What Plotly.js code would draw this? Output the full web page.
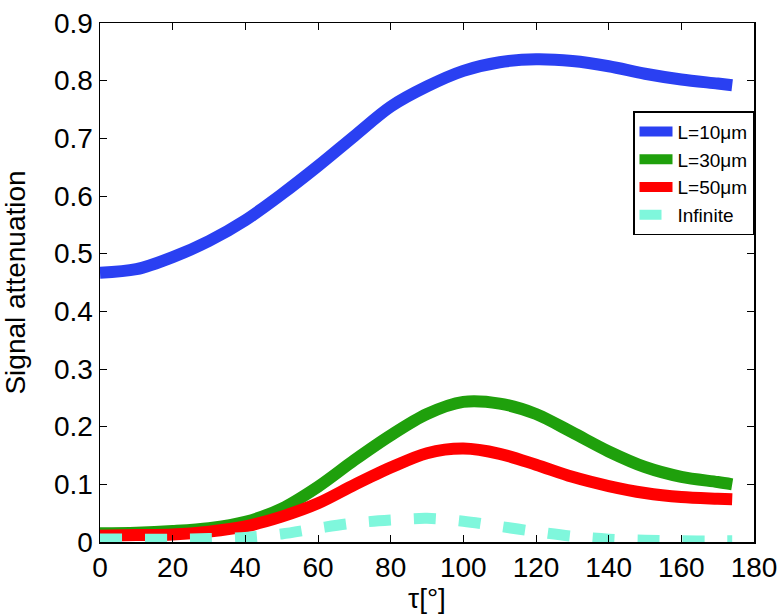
<!DOCTYPE html>
<html>
<head>
<meta charset="utf-8">
<script src="https://cdn.plot.ly/plotly-3.0.1.min.js"></script>
<style>html,body{margin:0;padding:0;background:#fff;}#chart{width:783px;height:614px;}</style>
</head>
<body>
<div id="chart"></div>
<script>
const tau = [0, 10, 20, 30, 40, 50, 60, 70, 80, 90, 100, 110, 120, 130, 140, 150, 160, 170, 174];
const L10 = [0.467, 0.473, 0.494, 0.522, 0.558, 0.603, 0.652, 0.704, 0.755, 0.790, 0.817, 0.832, 0.837, 0.834, 0.825, 0.812, 0.802, 0.795, 0.792];
const L30 = [0.015, 0.016, 0.019, 0.024, 0.035, 0.058, 0.096, 0.142, 0.185, 0.222, 0.243, 0.240, 0.222, 0.190, 0.157, 0.130, 0.113, 0.104, 0.100];
const L50 = [0.011, 0.012, 0.013, 0.018, 0.027, 0.044, 0.067, 0.099, 0.129, 0.154, 0.162, 0.153, 0.134, 0.113, 0.097, 0.085, 0.078, 0.075, 0.074];
const Linf = [0.005, 0.005, 0.005, 0.006, 0.008, 0.014, 0.024, 0.033, 0.038, 0.041, 0.036, 0.027, 0.018, 0.010, 0.005, 0.003, 0.002, 0.002, 0.002];
const names = ["L=10\u03bcm", "L=30\u03bcm", "L=50\u03bcm", "Infinite"];
const colors = ["#2a40f2", "#1fa00c", "#ff0000", "#7ff7dc"];
const xTicks = [0, 20, 40, 60, 80, 100, 120, 140, 160, 180];
const yTicks = [0, 0.1, 0.2, 0.3, 0.4, 0.5, 0.6, 0.7, 0.8, 0.9];

const series = [L10, L30, L50, Linf];
const traces = series.map((ys, i) => ({
  x: tau, y: ys, name: names[i], type: "scatter", mode: "lines",
  line: {color: colors[i], width: i === 3 ? 11 : 12, shape: "spline", smoothing: 0.9,
         dash: i === 3 ? "22px,23px" : "solid"}
}));

const font = "Liberation Sans, Arial, Helvetica, sans-serif";
const layout = {
  width: 783, height: 614,
  margin: {l: 100, r: 29, t: 23, b: 72},
  paper_bgcolor: "#fff", plot_bgcolor: "#fff",
  font: {family: font, color: "#000", size: 28},
  showlegend: true,
  legend: {x: 1, y: 0.83, xanchor: "right", yanchor: "top",
           bordercolor: "#000", borderwidth: 1.5, bgcolor: "#fff",
           font: {size: 19, family: font}, itemwidth: 33, tracegroupgap: 0},
  xaxis: {range: [0, 180], tickvals: xTicks, ticktext: xTicks.map(String), automargin: false,
          showline: true, linecolor: "#000", linewidth: 1.5, mirror: "ticks",
          ticks: "inside", ticklen: 7, tickcolor: "#000", showgrid: false, zeroline: false,
          tickfont: {size: 28},
          title: {text: "\u03c4[\u00b0]", font: {size: 28}, standoff: 0}},
  yaxis: {range: [0, 0.9], tickvals: yTicks, ticktext: yTicks.map(v => v === 0 ? "0" : v.toFixed(1)), automargin: false,
          showline: true, linecolor: "#000", linewidth: 1.5, mirror: "ticks",
          ticks: "inside", ticklen: 7, tickcolor: "#000", showgrid: false, zeroline: false,
          tickfont: {size: 28},
          title: {text: "Signal attenuation", font: {size: 28}, standoff: 24}}
};
Plotly.newPlot("chart", traces, layout, {displayModeBar: false, staticPlot: true});
</script>
</body>
</html>
